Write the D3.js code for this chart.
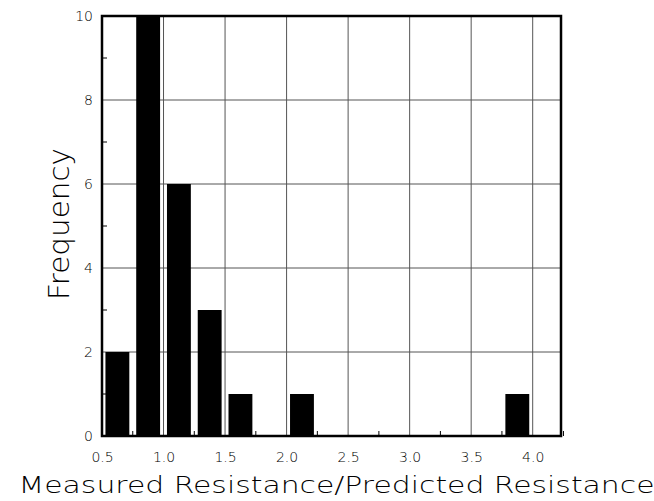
<!DOCTYPE html>
<html>
<head>
<meta charset="utf-8">
<script src="https://cdn.jsdelivr.net/npm/d3@7"></script>
<style>
  body { margin: 0; background: #fff; }
  text { font-family: "DejaVu Sans", "Liberation Sans", sans-serif; }
</style>
</head>
<body>
<div id="chart-area"></div>
<script>
// histogram bins (lower edge, width 0.25) and counts
let binStarts = [0.5, 0.75, 1.0, 1.25, 1.5, 2.0, 3.75];
let counts = [2, 10, 6, 3, 1, 1, 1];
let xTicks = [0.5, 1.0, 1.5, 2.0, 2.5, 3.0, 3.5, 4.0];
let yTicks = [0, 2, 4, 6, 8, 10];
let binWidth = 0.25;

let data = binStarts.map(function(d, i) { return {x0: d, count: counts[i]}; });

let margin = {top: 16, right: 93, bottom: 65, left: 102},
  width = 654 - margin.left - margin.right,
  height = 501 - margin.top - margin.bottom;

let svg = d3.select("#chart-area")
  .append("svg")
  .attr("width", 654)
  .attr("height", 501)
  .append("g")
  .attr("transform", "translate(" + margin.left + "," + margin.top + ")");

let x = d3.scaleLinear().domain([0.5, 4.23]).range([0, width]);
let y = d3.scaleLinear().domain([0, 10]).range([height, 0]);

// grid
svg.append("g")
  .selectAll("line.vgrid")
  .data(xTicks.slice(1))
  .enter().append("line")
  .attr("x1", function(d) { return x(d); })
  .attr("x2", function(d) { return x(d); })
  .attr("y1", 0).attr("y2", height)
  .attr("stroke", "#555").attr("stroke-width", 1);

svg.append("g")
  .selectAll("line.hgrid")
  .data(yTicks.slice(1, -1))
  .enter().append("line")
  .attr("y1", function(d) { return y(d); })
  .attr("y2", function(d) { return y(d); })
  .attr("x1", 0).attr("x2", width)
  .attr("stroke", "#555").attr("stroke-width", 1);

// bars
let gap = 0.028;
svg.selectAll(".bar")
  .data(data)
  .enter().append("rect")
  .attr("class", "bar")
  .attr("x", function(d) { return x(d.x0 + gap); })
  .attr("width", function(d) { return x(d.x0 + binWidth - gap) - x(d.x0 + gap); })
  .attr("y", function(d) { return y(d.count); })
  .attr("height", function(d) { return height - y(d.count); })
  .attr("fill", "#000");

// minor ticks
let xMinor = xTicks.map(function(d) { return d + 0.25; });
svg.append("g")
  .selectAll("line")
  .data(xMinor)
  .enter().append("line")
  .attr("x1", function(d) { return x(d); })
  .attr("x2", function(d) { return x(d); })
  .attr("y1", height).attr("y2", height - 5)
  .attr("stroke", "#000");

svg.append("g")
  .selectAll("line")
  .data([1, 3, 5, 7, 9])
  .enter().append("line")
  .attr("y1", function(d) { return y(d); })
  .attr("y2", function(d) { return y(d); })
  .attr("x1", 0).attr("x2", 5)
  .attr("stroke", "#000");

// axes (labels only, frame drawn separately)
let xAxis = d3.axisBottom(x).tickValues(xTicks).tickFormat(d3.format(".1f")).tickSize(0).tickPadding(16);
let yAxis = d3.axisLeft(y).tickValues(yTicks).tickSize(0).tickPadding(9);

let xAxisGroup = svg.append("g")
  .attr("transform", "translate(0," + height + ")")
  .call(xAxis);
let yAxisGroup = svg.append("g").call(yAxis);

[xAxisGroup, yAxisGroup].forEach(function(g) {
  g.select(".domain").remove();
  g.selectAll("text")
    .style("font-size", "14px")
    .style("font-weight", "300")
    .attr("fill", "#000");
});

// frame
svg.append("rect")
  .attr("x", 0).attr("y", 0)
  .attr("width", width).attr("height", height)
  .attr("fill", "none")
  .attr("stroke", "#000")
  .attr("stroke-width", 2.5);

// titles
svg.append("text")
  .attr("x", width / 2 + 5)
  .attr("y", height + 57)
  .style("text-anchor", "middle")
  .style("font-size", "23.5px")
  .style("font-weight", "200")
  .attr("textLength", 636)
  .attr("lengthAdjust", "spacingAndGlyphs")
  .text("Measured Resistance/Predicted Resistance");

svg.append("text")
  .attr("transform", "rotate(-90)")
  .attr("x", -height / 2 + 2)
  .attr("y", -33)
  .style("text-anchor", "middle")
  .style("font-size", "28px")
  .style("font-weight", "200")
  .attr("textLength", 152)
  .attr("lengthAdjust", "spacingAndGlyphs")
  .text("Frequency");
</script>
</body>
</html>
